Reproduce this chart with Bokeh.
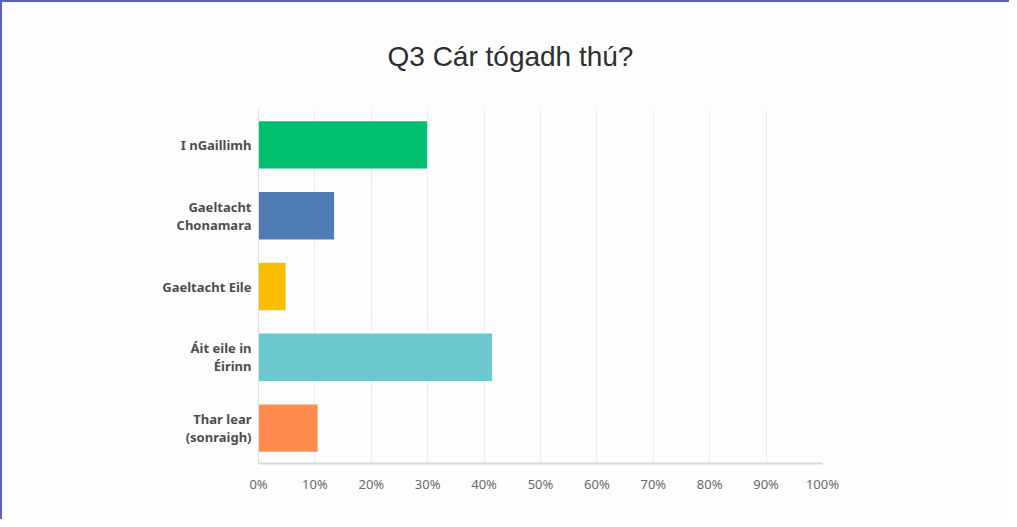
from bokeh.plotting import figure
from bokeh.models import ColumnDataSource, FactorRange, Range1d, Title, FixedTicker
from bokeh.embed import file_html
from bokeh.resources import INLINE

categories = ["I nGaillimh", "Gaeltacht\nChonamara", "Gaeltacht Eile", "Áit eile in\nÉirinn", "Thar lear\n(sonraigh)"]
percentages = [29.9, 13.4, 4.8, 41.4, 10.5]
colors = ["#00bf6f", "#507cb6", "#f9be00", "#6bc8cd", "#ff8b4f"]
x_ticks = [0, 10, 20, 30, 40, 50, 60, 70, 80, 90, 100]
x_tick_labels = ["0%", "10%", "20%", "30%", "40%", "50%", "60%", "70%", "80%", "90%", "100%"]
title_text = "Q3 Cár tógadh thú?"

source = ColumnDataSource(dict(cat=categories, val=percentages, color=colors))

p = figure(
    width=1009, height=519,
    y_range=FactorRange(*list(reversed(categories))),
    x_range=Range1d(0, 100),
    output_backend="svg", toolbar_location=None, tools="",
    min_border_left=256, min_border_right=189, min_border_top=107, min_border_bottom=58,
)
p.styles = {"border-top": "2px solid #5c61c2", "border-left": "2px solid #5c61c2", "box-sizing": "border-box"}
p.background_fill_color = "#fdfdfd"
p.border_fill_color = "#fdfdfd"
p.outline_line_color = None

p.hbar(y="cat", left=0, right="val", height=0.67, color="color", source=source, line_color=None)

t = Title(text=title_text, align="left", vertical_align="top", text_font="Liberation Sans",
          text_font_size="28px", text_font_style="normal", text_color="#2e2e2e",
          offset=129, standoff=72)
p.add_layout(t, "above")

p.xaxis.ticker = FixedTicker(ticks=x_ticks)
p.xaxis.major_label_overrides = {t_: l for t_, l in zip(x_ticks, x_tick_labels)}
p.xaxis.major_label_text_font = "Noto Sans"
p.xaxis.major_label_text_font_size = "13px"
p.xaxis.major_label_text_color = "#6a6a6a"
p.xaxis.major_label_standoff = 5
p.xaxis.major_tick_line_color = None
p.xaxis.minor_tick_line_color = None
p.xaxis.axis_line_color = "#d9d9d9"
p.xaxis.axis_line_width = 2

p.yaxis.major_label_text_font = "Noto Sans"
p.yaxis.major_label_text_font_style = "bold"
p.yaxis.major_label_text_font_size = "13px"
p.yaxis.major_label_text_color = "#4d4d4d"
p.yaxis.major_label_text_line_height = 1.0
p.yaxis.major_label_standoff = 1
p.yaxis.major_tick_line_color = None
p.yaxis.minor_tick_line_color = None
p.yaxis.axis_line_color = "#dedede"

p.xgrid.grid_line_color = "#ebebeb"
p.ygrid.grid_line_color = None

open("out.html", "w").write(file_html(p, INLINE))
